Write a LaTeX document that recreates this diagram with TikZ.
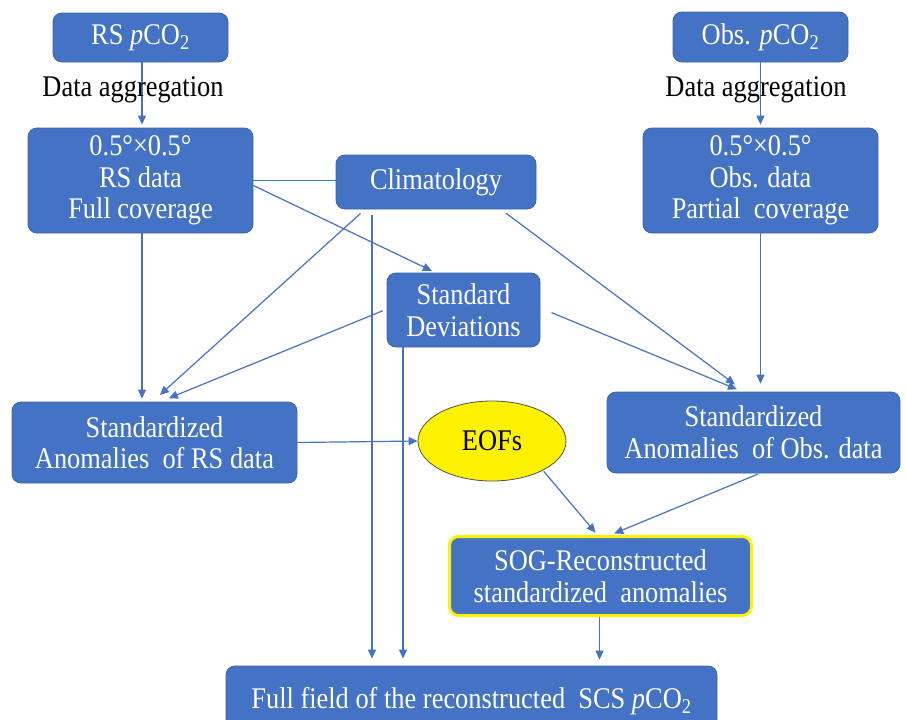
\documentclass[tikz,border=0pt]{standalone}
\usepackage{fontspec}
\setmainfont{Liberation Serif}[FakeStretch=0.88]
\usetikzlibrary{arrows.meta,shapes.geometric}
\definecolor{boxblue}{HTML}{4472C4}
\definecolor{boxedge}{HTML}{3A64B0}
\definecolor{linblue}{HTML}{4472C4}
\definecolor{eofedge}{HTML}{505050}
\newcommand{\pco}{\textit{p}CO\textsubscript{2}}
\begin{document}
\begin{tikzpicture}[x=1pt,y=-1pt,
  box/.style={rectangle, rounded corners=9pt, fill=boxblue, draw=boxedge, line width=0.8pt,
    text=white, align=center, inner sep=0pt, font=\fontsize{30}{31.5}\selectfont},
  lbl/.style={text=black, inner sep=0pt, font=\fontsize{30}{31.5}\selectfont},
  conn/.style={draw=linblue, line width=1.2pt},
  arr/.style={conn, -{Triangle[length=9pt,width=8pt]}, shorten >=3pt}]
\useasboundingbox (0,0) rectangle (906,720);
\fill[white] (0,0) rectangle (906,720);
% nodes
\node[box, minimum width=175pt, minimum height=49pt] (rs) at (140.5,37.5) {RS \pco};
\node[box, minimum width=175pt, minimum height=50pt] (obs) at (760.5,37) {Obs. \pco};
\node[box, minimum width=225pt, minimum height=105pt] (rsd) at (140.5,180.5) {0.5°×0.5°\\RS data\\Full coverage};
\node[box, minimum width=200pt, minimum height=54pt] (clim) at (436,182) {Climatology};
\node[box, minimum width=235pt, minimum height=105pt] (obsd) at (760.5,180.5) {0.5°×0.5°\\Obs. data\\Partial\ \ coverage};
\node[box, minimum width=153pt, minimum height=74pt] (sd) at (463.5,310) {Standard\\Deviations};
\node[box, minimum width=285pt, minimum height=81pt] (sars) at (154.5,442.5) {Standardized\\Anomalies\ \ of RS data};
\node[ellipse, fill=yellow, draw=eofedge, line width=0.8pt, minimum width=148pt, minimum height=80pt,
  inner sep=0pt, font=\fontsize{30}{31.5}\selectfont] (eof) at (492,441) {EOFs};
\node[box, minimum width=293pt, minimum height=81pt] (saos) at (753.5,432.5) {Standardized\\Anomalies\ \ of Obs. data};
\node[box, draw=yellow, line width=3pt, minimum width=302pt, minimum height=79pt] (sog) at (600.5,576) {SOG-Reconstructed\\standardized\ \ anomalies};
\node[box, minimum width=491pt, minimum height=70pt] (full) at (471.5,701) {Full field of the reconstructed\ \ SCS \pco};
% connectors
\draw[arr] ([xshift=1.5pt]rs.south) -- ([xshift=1.5pt]rsd.north);
\draw[arr] (obs.south) -- (obsd.north);
\node[lbl] (dal) at (133,90) {Data aggregation};
\node[lbl] (dar) at (756,90) {Data aggregation};
\draw[arr] ([xshift=1.5pt]rsd.south) -- ([xshift=1.5pt]rsd.south |- sars.north);
\draw[conn] (rsd.east) -- (rsd.east -| clim.west);
\draw[arr, shorten >=4pt] ([yshift=-5pt]rsd.east) -- ([xshift=-28pt]sd.north);
\draw[arr, shorten <=6pt, shorten >=10pt] ([xshift=-71pt]clim.south) -- ([xshift=-2pt]sars.north);
\draw[arr, shorten <=6pt, shorten >=7pt] ([xshift=-64pt]clim.south) -- ([xshift=-64pt]clim.south |- full.north);
\draw[arr, shorten <=6pt, shorten >=12pt] ([xshift=65pt]clim.south) -- ([xshift=-9pt]saos.north);
\draw[arr, shorten <=2pt, shorten >=9pt] ([xshift=-2pt]sd.west) -- ([xshift=6pt]sars.north);
\draw[arr, shorten >=7pt] ([xshift=-60.5pt]sd.south) -- ([xshift=-60.5pt]sd.south |- full.north);
\draw[arr, shorten <=12pt, shorten >=6pt] ([yshift=2pt]sd.east) -- ([xshift=-11pt]saos.north);
\draw[arr, shorten >=8pt] (obsd.south) -- (obsd.south |- saos.north);
\draw[arr, shorten >=0pt] (sars.east) -- (eof.west);
\draw[arr, shorten <=1pt] (eof.-30) -- ([xshift=-3pt]sog.north);
\draw[arr, shorten <=2pt, shorten >=4pt] ([xshift=6pt]saos.south) -- ([xshift=10pt]sog.north);
\draw[arr, shorten >=6pt] ([xshift=-1pt]sog.south) -- ([xshift=-1pt]sog.south |- full.north);
\end{tikzpicture}
\end{document}
